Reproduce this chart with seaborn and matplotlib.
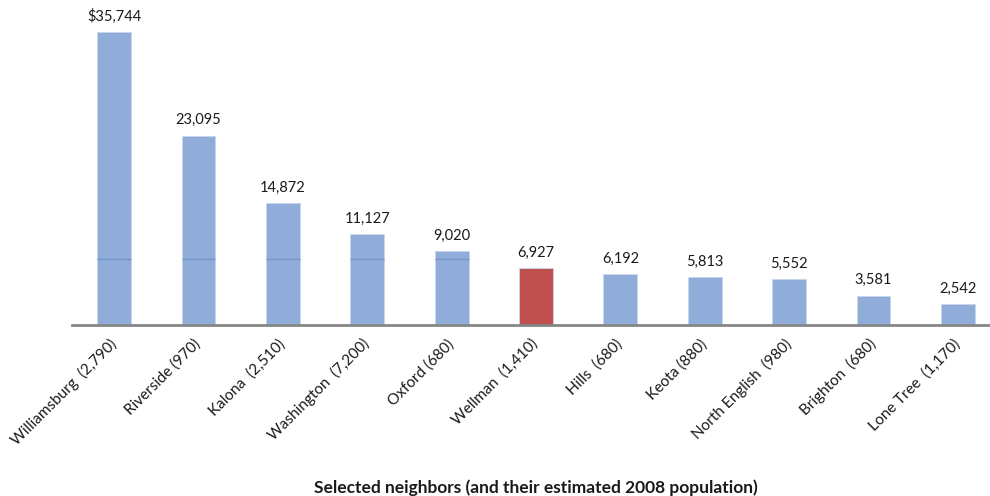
import matplotlib
matplotlib.use("Agg")
import matplotlib.pyplot as plt
import seaborn as sns
import pandas as pd

towns = ["Williamsburg  (2,790)", "Riverside (970)", "Kalona  (2,510)",
         "Washington  (7,200)", "Oxford (680)", "Wellman  (1,410)",
         "Hills  (680)", "Keota (880)", "North English  (980)",
         "Brighton  (680)", "Lone Tree  (1,170)"]
values = [35744, 23095, 14872, 11127, 9020, 6927, 6192, 5813, 5552, 3581, 2542]
highlight = "Wellman  (1,410)"
value_labels = ["$35,744", "23,095", "14,872", "11,127", "9,020", "6,927",
                "6,192", "5,813", "5,552", "3,581", "2,542"]
xlabel = "Selected neighbors (and their estimated 2008 population)"

BLUE = "#8fadd8"
RED = "#c0504d"

sns.set_theme(style="white")
plt.rcParams["font.family"] = ["Lato", "DejaVu Sans"]

df = pd.DataFrame({"town": towns, "value": values})
df["group"] = ["hl" if t == highlight else "base" for t in towns]

fig = plt.figure(figsize=(9.9, 4.96), dpi=100)
ax = fig.add_axes([72 / 990, 1 - 325 / 496, 928 / 990, 325 / 496])

sns.barplot(data=df, x="town", y="value", hue="group",
            palette={"base": BLUE, "hl": RED}, width=0.40, legend=False,
            edgecolor="#c9d7ec", linewidth=0.6, saturation=1, ax=ax)

ax.set_ylim(0, 39648)
ax.set_xlim(-0.5, 10.5)

# faint reference line showing through the taller bars
ref = 8100
for p in ax.patches:
    if p.get_height() > ref:
        ax.hlines(ref, p.get_x(), p.get_x() + p.get_width(),
                  color="#7497cb", linewidth=1.0, zorder=3)

for p, lab in zip(sorted(ax.patches, key=lambda r: r.get_x()), value_labels):
    ax.annotate(lab, (p.get_x() + p.get_width() / 2, p.get_height()),
                xytext=(0, 6), textcoords="offset points",
                ha="center", va="bottom", fontsize=10.5, color="#1a1a1a")

for s in ["top", "right", "left"]:
    ax.spines[s].set_visible(False)
ax.spines["bottom"].set_color("#868686")
ax.spines["bottom"].set_linewidth(2)
ax.set_yticks([])
ax.set_ylabel("")
ax.tick_params(axis="x", length=0, pad=12)
ax.set_xticks(range(len(towns)))
ax.set_xticklabels(towns, rotation=45, ha="right", va="center",
                   rotation_mode="anchor", fontsize=11, color="#1a1a1a")
ax.set_xlabel(xlabel, fontsize=12.5, fontweight="bold", labelpad=23,
              color="#1a1a1a")

fig.savefig("out.png", dpi=100)
